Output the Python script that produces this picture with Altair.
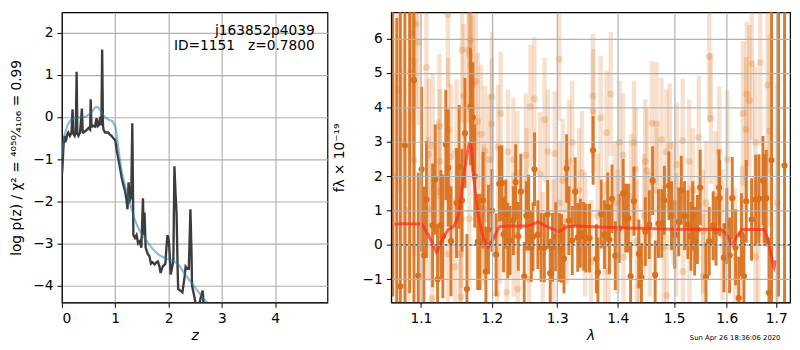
import altair as alt
import pandas as pd

# ---------------- left panel: log p(z) ----------------
z_pz = [0.00, 0.007, 0.02, 0.03, 0.05, 0.065, 0.085, 0.10, 0.12, 0.15, 0.18, 0.20, 0.215, 0.24, 0.26,
        0.276, 0.29, 0.31, 0.34, 0.375, 0.39, 0.40, 0.45, 0.50, 0.53, 0.54, 0.555, 0.57, 0.62, 0.65,
        0.67, 0.69, 0.72, 0.74, 0.755, 0.77, 0.78, 0.81, 0.87, 0.90, 0.93, 0.96, 1.00, 1.03, 1.06,
        1.12, 1.15, 1.18, 1.21, 1.23, 1.25, 1.27, 1.28, 1.30, 1.32, 1.335, 1.34, 1.37, 1.40, 1.43,
        1.46, 1.49, 1.52, 1.535, 1.55, 1.57, 1.61, 1.64, 1.67, 1.70, 1.74, 1.77, 1.80, 1.83, 1.85,
        1.89, 1.94, 1.96, 1.98, 2.00, 2.01, 2.04, 2.07, 2.09, 2.11, 2.13, 2.15, 2.17, 2.18, 2.22,
        2.26, 2.30, 2.32, 2.35, 2.38, 2.41, 2.43, 2.44, 2.48, 2.52, 2.56, 2.60, 2.64, 2.66, 2.70]
logp_pz = [-1.36, -1.28, -0.95, -0.68, -0.45, -0.60, -0.52, -0.42, -0.37, -0.45, -0.37, 0.18, -0.40, -0.45, -0.35,
           1.07, -0.40, -0.45, -0.37, 0.20, -0.35, -0.37, -0.33, -0.26, -0.30, 0.42, -0.25, -0.20, -0.23, -0.03,
           -0.22, -0.20, 0.00, -0.20, 1.60, -0.20, -0.30, -0.37, -0.37, -0.42, -0.45, -0.50, -0.55, -0.80, -1.00,
           -1.43, -1.60, -1.74, -1.95, -2.19, -1.55, -1.85, -1.96, -1.90, -0.15, -2.00, -2.80, -2.87, -2.80, -3.00,
           -2.95, -3.10, -1.93, -2.80, -2.27, -3.10, -3.25, -3.30, -3.48, -3.45, -3.50, -3.45, -3.43, -3.55, -3.70,
           -3.55, -3.48, -3.10, -2.80, -2.90, -3.00, -3.74, -3.55, -3.40, -1.17, -1.80, -2.27, -3.60, -4.08, -4.12,
           -4.16, -3.80, -3.55, -3.60, -3.60, -2.19, -3.20, -4.00, -4.24, -4.50, -4.55, -4.30, -4.12, -4.50, -4.80]

z_smooth = [0.00, 0.02, 0.05, 0.11, 0.17, 0.23, 0.30, 0.37, 0.44, 0.50, 0.56, 0.62, 0.66, 0.70, 0.75,
            0.80, 0.87, 0.95, 1.00, 1.03, 1.07, 1.12, 1.18, 1.24, 1.30, 1.36, 1.45, 1.55, 1.64, 1.73,
            1.82, 1.92, 2.01, 2.10, 2.20, 2.29, 2.38, 2.47, 2.56, 2.64, 2.72]
logp_smooth = [-0.90, -0.68, -0.42, -0.18, -0.07, -0.03, -0.02, 0.00, 0.00, 0.05, 0.12, 0.22, 0.24, 0.20, 0.10,
               0.00, -0.06, -0.10, -0.22, -0.45, -0.85, -1.28, -1.62, -1.89, -2.15, -2.42, -2.68, -2.87, -3.03, -3.17,
               -3.27, -3.34, -3.38, -3.42, -3.52, -3.70, -3.85, -4.00, -4.15, -4.28, -4.40]

# ---------------- right panel: spectrum ----------------
dark_wave = [1.0627, 1.0680, 1.0727, 1.0787, 1.0850, 1.0907, 1.0965,
             1.1010, 1.1040, 1.1075, 1.1159, 1.1195, 1.1227, 1.1273, 1.1300, 1.1341, 1.1376, 1.1413, 1.1491,
             1.1528, 1.1569, 1.1611, 1.1638, 1.1690, 1.1723, 1.1751, 1.1793, 1.1827, 1.1870, 1.1912, 1.1949,
             1.2000, 1.2062, 1.2110, 1.2148, 1.2173, 1.2205, 1.2236, 1.2270, 1.2320, 1.2354, 1.2394, 1.2432,
             1.2484, 1.2518, 1.2553, 1.2593, 1.2619, 1.2643, 1.2695, 1.2745, 1.2796, 1.2848, 1.2888, 1.2925,
             1.2977, 1.3029, 1.3067, 1.3107, 1.3150, 1.3187, 1.3241, 1.3288, 1.3330, 1.3373, 1.3427, 1.3465,
             1.3524, 1.3583, 1.3637, 1.3664, 1.3719, 1.3775, 1.3830, 1.3858, 1.3901, 1.3958, 1.4025, 1.4093,
             1.4137, 1.4183, 1.4222, 1.4280, 1.4366, 1.4412, 1.4481, 1.4551, 1.4611, 1.4656, 1.4716, 1.4775,
             1.4823, 1.4905, 1.4953, 1.5012, 1.5085, 1.5133, 1.5193, 1.5255, 1.5315, 1.5347, 1.5383, 1.5435,
             1.5487, 1.5598, 1.5660, 1.5735, 1.5790, 1.5849, 1.5860, 1.5944, 1.6000, 1.6055, 1.6108, 1.6173,
             1.6235, 1.6290, 1.6340, 1.6386, 1.6493, 1.6575, 1.6643, 1.6725, 1.6745, 1.6792, 1.6848, 1.6902,
             1.7047, 1.7173]
dark_flux = [7.5, -2.4, -1.2, 2.89, 7.6, 4.79, -0.89,
             2.2, -0.3, 1.32, 0.57, 1.9, -1.0, 0.58, 0.25, 2.91, 2.24, 0.11, 1.22,
             2.27, 1.30, 3.25, -1.28, 4.02, 3.71, 2.0, 0.09, 0.09, 1.3, -0.77, 0.45,
             1.0, -0.28, 1.78, 1.80, 0.31, 0.9, 0.13, 0.13, 0.71, 1.83, 0.25, 1.55,
             -0.91, 0.85, 0.94, -0.07, 0.24, 2.2, 0.3, -0.07, -0.08, 0.89, -0.82, -0.07,
             0.24, -0.07, -0.1, -0.4, 2.22, 0.71, 0.13, 1.55, 0.22, 0.34, 0.25, 0.2,
             0.2, 2.75, -0.4, -0.79, 0.9, 0.3, 1.11, 0.16, 1.34, -0.31, 0.48, 1.5,
             0.78, 0.78, -0.91, 1.27, -0.26, -0.95, 0.39, 0.59, 1.87, -0.87, 0.62, 0.63,
             1.3, 1.72, 0.85, 0.3, 0.67, 1.59, 0.85, 0.59, 0.25, 0.85, 0.11, 0.45,
             1.67, -0.93, 0.11, 0.56, 0.4, 1.67, 1.36, -0.37, 0.55, -0.3, 1.36, -0.07,
             -1.54, 0.3, -0.91, 1.27, 0.74, 1.32, 1.34, 1.87, 1.34, 1.36, -1.39, 2.47,
             7.5, 2.31]
dark_err = [9, 9, 9, 9, 9, 9, 3.0,
            2.4, 2.0, 1.7, 1.8, 1.6, 1.6, 1.6, 1.8, 1.6, 1.7, 1.6, 1.6,
            1.8, 1.5, 1.6, 1.6, 1.7, 1.6, 1.5, 1.4, 1.4, 1.4, 1.3, 1.3,
            1.2, 1.2, 1.1, 1.1, 1.1, 1.0, 1.1, 1.0, 1.0, 1.1, 1.0, 1.1,
            1.0, 1.0, 1.1, 1.0, 1.0, 1.07, 1.0, 1.0, 1.0, 1.0, 1.0, 1.0,
            1.0, 1.0, 1.0, 1.0, 1.0, 1.0, 1.0, 1.0, 1.0, 1.0, 1.0, 1.0,
            1.0, 1.0, 1.0, 1.0, 1.0, 1.0, 1.0, 1.0, 1.0, 1.0, 1.0, 1.0,
            1.0, 1.0, 1.0, 1.0, 1.0, 1.0, 1.0, 1.0, 1.0, 1.0, 1.0, 1.0,
            1.0, 1.0, 1.0, 1.0, 1.0, 1.0, 1.0, 1.0, 1.0, 1.0, 1.0, 1.0,
            1.1, 1.0, 1.0, 1.0, 1.0, 1.1, 1.1, 1.0, 1.1, 1.1, 1.2, 1.1,
            1.2, 1.2, 1.2, 1.2, 1.2, 1.3, 1.3, 1.3, 1.3, 1.4, 1.6, 9,
            9, 9]

light_wave = [1.0640, 1.0700, 1.0760, 1.0820, 1.0865, 1.0874, 1.0900, 1.0907, 1.0930, 1.0970, 1.1075, 1.1106,
              1.1100, 1.1150, 1.1160, 1.1240, 1.1253, 1.1260, 1.1370, 1.1376, 1.1372, 1.1413, 1.1470, 1.1490,
              1.1540, 1.1554, 1.1560, 1.1569, 1.1592, 1.1660, 1.1675, 1.1690, 1.1673, 1.1695, 1.1723, 1.1765,
              1.1793, 1.1840, 1.1880, 1.1887, 1.1897, 1.1960, 1.1997, 1.2000, 1.2075, 1.2090, 1.2120, 1.2130,
              1.2220, 1.2240, 1.2320, 1.2325, 1.2380, 1.2390, 1.2510, 1.2520, 1.2560, 1.2580, 1.2640, 1.2730,
              1.2770, 1.2800, 1.2850, 1.2940, 1.2960, 1.3030, 1.3035, 1.3090, 1.3150, 1.3190, 1.3240, 1.3350,
              1.3400, 1.3450, 1.3550, 1.3580, 1.3585, 1.3660, 1.3710, 1.3780, 1.3810, 1.3840, 1.3880, 1.3950,
              1.4000, 1.4030, 1.4090, 1.4100, 1.4230, 1.4280, 1.4310, 1.4330, 1.4370, 1.4460, 1.4480, 1.4510,
              1.4560, 1.4600, 1.4680, 1.4685, 1.4770, 1.4810, 1.4860, 1.4865, 1.4920, 1.4990, 1.5040, 1.5050,
              1.5160, 1.5165, 1.5280, 1.5285, 1.5350, 1.5460, 1.5540, 1.5545, 1.5600, 1.5660, 1.5690, 1.5780,
              1.5850, 1.5915, 1.6010, 1.6160, 1.6300, 1.6320, 1.6380, 1.6400, 1.6450, 1.6500, 1.6570, 1.6575,
              1.6630, 1.6670, 1.6820, 1.6860, 1.7020]
light_flux = [2.0, 4.5, 3.0, 1.0, 5.03, 6.14, 5.35, 2.47, 6.42, 5.89, 5.16, 2.63,
              1.04, -1.56, 2.87, 1.55, 3.45, 2.43, 6.68, 3.34, -0.26, 2.57, -0.63, 2.71,
              -0.26, -1.5, 0.76, 5.66, 4.33, 5.67, 5.52, 5.95, 0.76, 5.23, 4.67, 4.75,
              3.59, 3.22, 1.04, 0.76, 2.73, 2.48, 3.52, 4.30, -1.42, 2.85, 0.67, 3.82,
              -1.37, 2.71, 2.48, 0.30, 2.10, -1.28, 2.61, 1.59, -1.0, 4.02, 4.24, 2.06,
              -0.26, 3.64, 2.71, 0.11, 2.66, 5.40, 1.22, 1.87, 0.67, 2.43, 2.98, 1.59,
              2.10, 0.30, -0.49, 4.33, 3.89, 0.85, 3.70, 0.02, 3.26, -0.77, 4.39, 1.22,
              0.39, 2.98, 2.61, -0.35, 1.41, 2.98, 2.20, 0.11, -1.19, 0.85, 2.43, 2.15,
              0.30, 3.54, 3.52, 1.59, 3.06, -0.07, 2.71, -1.47, 2.89, 1.22, 0.30, 2.34,
              3.03, -0.77, 2.43, -0.07, 1.59, 3.12, 0.39, -0.91, 1.22, 5.47, 3.68, 1.41,
              2.71, 0.30, 2.48, -0.35, 0.30, 3.82, 3.36, 4.39, 4.19, 5.26, 2.98, -0.35,
              0.30, 5.30, 4.65, 3.31, 1.22]
light_err = [3.0, 3.0, 3.0, 3.0, 2.6, 2.6, 2.4, 2.8, 2.4, 2.4, 2.2, 2.2,
             2.1, 2.0, 2.1, 2.1, 2.1, 2.1, 2.1, 2.1, 2.0, 2.1, 2.0, 2.1,
             2.0, 2.0, 2.0, 2.1, 2.1, 2.1, 2.1, 2.1, 2.0, 2.1, 2.0, 2.0,
             2.0, 2.0, 1.9, 1.9, 1.9, 1.9, 1.9, 1.9, 1.8, 1.8, 1.8, 1.8,
             1.8, 1.8, 1.8, 1.8, 1.8, 1.8, 1.8, 1.8, 1.8, 1.8, 1.8, 1.8,
             1.8, 1.8, 1.8, 1.8, 1.8, 1.8, 1.8, 1.8, 1.8, 1.8, 1.8, 1.8,
             1.8, 1.8, 1.8, 1.8, 1.8, 1.8, 1.8, 1.8, 1.8, 1.8, 1.8, 1.8,
             1.8, 1.8, 1.8, 1.8, 1.8, 1.8, 1.8, 1.8, 1.8, 1.8, 1.8, 1.8,
             1.8, 1.8, 1.8, 1.8, 1.8, 1.8, 1.8, 1.8, 1.8, 1.8, 1.8, 1.8,
             1.8, 1.8, 1.8, 1.8, 1.8, 1.8, 1.8, 1.8, 1.8, 1.9, 1.9, 1.9,
             1.9, 1.9, 2.0, 2.0, 2.0, 2.1, 2.1, 2.1, 2.2, 2.2, 2.2, 2.2,
             2.3, 2.4, 2.6, 2.8, 3.5]

model_wave = [1.0650, 1.0729, 1.1013, 1.1100, 1.1212, 1.1300, 1.1372, 1.1460, 1.1531, 1.1600, 1.1668, 1.1700,
              1.1734, 1.1800, 1.1874, 1.1943, 1.2015, 1.2110, 1.2257, 1.2518, 1.2620, 1.2695, 1.2822, 1.3030,
              1.3160, 1.3293, 1.4000, 1.4988, 1.5880, 1.5980, 1.6110, 1.6200, 1.6300, 1.6750, 1.6820, 1.6930,
              1.6955, 1.6990]
model_flux = [0.60, 0.62, 0.61, 0.30, -0.21, 0.20, 0.44, 0.56, 0.95, 2.15, 2.94, 2.90,
              1.97, 0.85, 0.20, -0.06, 0.16, 0.53, 0.55, 0.55, 0.60, 0.67, 0.55, 0.39,
              0.53, 0.55, 0.50, 0.46, 0.46, 0.34, 0.02, 0.25, 0.45, 0.45, 0.20, -0.54,
              -0.65, -0.45]

left_xticks = [0, 1, 2, 3, 4]
left_yticks = [-4, -3, -2, -1, 0, 1, 2]
right_xticks = [1.1, 1.2, 1.3, 1.4, 1.5, 1.6, 1.7]
right_yticks = [-1, 0, 1, 2, 3, 4, 5, 6]

FONT = "DejaVu Sans"
ORANGE = "#d9701c"
W_L, W_R, H = 271, 407, 296

# ---------------- left chart ----------------
pz = pd.DataFrame({"z": z_pz, "logp": logp_pz})
sm = pd.DataFrame({"z": z_smooth, "logp": logp_smooth})

xL = alt.X("z:Q", scale=alt.Scale(domain=[0, 4.98], nice=False, zero=False),
           axis=alt.Axis(values=left_xticks, format="d", title="z", titleFontStyle="italic"))
yL = alt.Y("logp:Q", scale=alt.Scale(domain=[-4.40, 2.48], nice=False, zero=False),
           axis=alt.Axis(values=left_yticks, format="d",
                         title="log p(z) / χ² = ⁴⁰⁵⁰⁄₄₁₀₆ = 0.99", titlePadding=10))

pz_line = alt.Chart(pz).mark_line(color="#3c3c3c", strokeWidth=2.4, clip=True).encode(x=xL, y=yL)
sm_line = alt.Chart(sm).mark_line(color="#1f77b4", opacity=0.5, strokeWidth=2.2, clip=True).encode(
    x="z:Q", y="logp:Q")

one = pd.DataFrame({"a": [0]})
t1 = alt.Chart(one).mark_text(text="j163852p4039", align="right", baseline="middle",
                              font=FONT, fontSize=14, color="black").encode(
    x=alt.value(258), y=alt.value(19))
t2 = alt.Chart(one).mark_text(text="ID=1151\u00a0\u00a0\u00a0z=0.7800", align="right", baseline="middle",
                              font=FONT, fontSize=14, color="black").encode(
    x=alt.value(258), y=alt.value(34))

left = alt.layer(pz_line, sm_line, t1, t2).properties(width=W_L, height=H)

# ---------------- right chart ----------------
dark = pd.DataFrame({"wave": dark_wave, "flux": dark_flux, "err": dark_err})
dark["lo"] = dark["flux"] - dark["err"]
dark["hi"] = dark["flux"] + dark["err"]
light = pd.DataFrame({"wave": light_wave, "flux": light_flux, "err": light_err})
light["lo"] = light["flux"] - light["err"]
light["hi"] = light["flux"] + light["err"]
model = pd.DataFrame({"wave": model_wave, "flux": model_flux})
zero = pd.DataFrame({"y": [0]})

xR = alt.X("wave:Q", scale=alt.Scale(type="log", domain=[1.0607, 1.7289], nice=False, zero=False),
           axis=alt.Axis(values=right_xticks, format=".1f", title="λ", titleFontStyle="italic", zindex=1))
yR_scale = alt.Scale(domain=[-1.67, 6.76], nice=False, zero=False)
yR = alt.Y("lo:Q", scale=yR_scale,
           axis=alt.Axis(values=right_yticks, format="d", title="fλ × 10⁻¹⁹", titlePadding=16, zindex=1))

light_bars = alt.Chart(light).mark_rule(color=ORANGE, opacity=0.22, strokeWidth=4.5, clip=True).encode(
    x=xR, y=yR, y2="hi:Q")
light_pts = alt.Chart(light).mark_circle(color=ORANGE, opacity=0.25, size=50, clip=True).encode(
    x="wave:Q", y="flux:Q")
dark_bars = alt.Chart(dark).mark_rule(color=ORANGE, opacity=0.92, strokeWidth=3, clip=True).encode(
    x="wave:Q", y="lo:Q", y2="hi:Q")
dark_pts = alt.Chart(dark).mark_circle(color=ORANGE, opacity=1, size=40, clip=True).encode(
    x="wave:Q", y="flux:Q")
model_line = alt.Chart(model).mark_line(color="#ff2a1a", opacity=0.7, strokeWidth=3, clip=True).encode(
    x="wave:Q", y="flux:Q")
zero_line = alt.Chart(zero).mark_rule(color="black", strokeDash=[2, 3], strokeWidth=2).encode(y="y:Q")
footer = alt.Chart(one).mark_text(text="Sun Apr 26 18:36:06 2020", align="center", baseline="middle",
                                  font=FONT, fontSize=7, color="black").encode(
    x=alt.value(351), y=alt.value(332))

right = alt.layer(light_bars, light_pts, dark_bars, dark_pts, model_line, zero_line, footer).properties(
    width=W_R, height=H)

chart = alt.hconcat(left, right, spacing=3, padding={"left": 0, "top": 0, "right": 0, "bottom": 0}).configure_axis(
    labelFont=FONT, labelFontSize=14, labelColor="black",
    titleFont=FONT, titleFontSize=14, titleColor="black", titleFontWeight="normal",
    tickSize=5, tickColor="black", domainColor="black", labelPadding=4,
    gridColor="#b0b0b0", gridWidth=1.2, gridOpacity=1,
).configure_view(stroke="black", strokeWidth=1.2)

chart.save("out.html", embed_options={"renderer": "svg", "actions": False})
